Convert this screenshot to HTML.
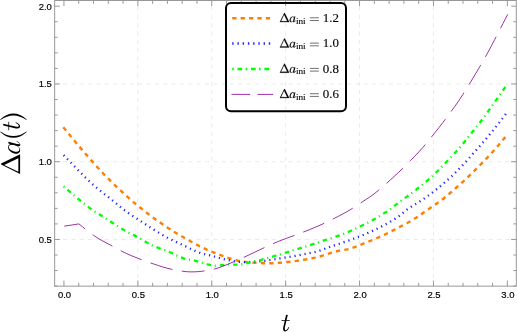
<!DOCTYPE html>
<html><head><meta charset="utf-8"><title>plot</title>
<style>
html,body{margin:0;padding:0;background:#fff;}
body{width:517px;height:332px;overflow:hidden;font-family:"Liberation Sans",sans-serif;}
svg{display:block;will-change:transform;}
.tk{font-family:"Liberation Sans",sans-serif;font-size:10px;fill:#000;stroke:#000;stroke-width:0.18px;}
.ser{font-family:"Liberation Serif",serif;fill:#000;stroke:#000;stroke-width:0.12px;}
</style></head><body>
<svg width="517" height="332" viewBox="0 0 517 332">
<rect x="0" y="0" width="517" height="332" fill="#ffffff"/>
<g stroke="#eaeaea" stroke-width="1" stroke-dasharray="4.2 4.15" fill="none">
<line x1="137.85" y1="286.15" x2="137.85" y2="0.5"/>
<line x1="211.75" y1="286.15" x2="211.75" y2="0.5"/>
<line x1="285.65" y1="286.15" x2="285.65" y2="0.5"/>
<line x1="359.55" y1="286.15" x2="359.55" y2="0.5"/>
<line x1="433.45" y1="286.15" x2="433.45" y2="0.5"/>
<line x1="54.65" y1="239.45" x2="516.3" y2="239.45"/>
<line x1="54.65" y1="161.70" x2="516.3" y2="161.70"/>
<line x1="54.65" y1="83.95" x2="516.3" y2="83.95"/>
</g>
<path d="M63.3,127.2 L67.3,132.0 L71.3,136.9 L75.3,141.8 L79.3,146.6 L83.3,151.3 L87.3,155.9 L91.3,160.4 L95.3,164.9 L99.3,169.3 L103.3,173.6 L107.3,177.7 L111.3,181.7 L115.3,185.6 L119.3,189.3 L123.3,193.0 L127.3,196.6 L131.3,200.2 L135.3,203.6 L139.3,206.9 L143.3,210.1 L147.3,213.2 L151.3,216.3 L155.3,219.2 L159.3,222.0 L163.3,224.8 L167.3,227.4 L171.3,230.0 L175.3,232.5 L179.3,234.9 L183.3,237.3 L187.3,239.5 L191.3,241.7 L195.3,243.9 L199.3,246.0 L203.3,248.0 L207.3,249.8 L211.3,251.5 L215.3,253.1 L219.3,254.7 L223.3,256.2 L227.3,257.7 L231.3,259.0 L235.3,260.1 L239.3,261.0 L243.3,261.7 L247.3,262.1 L251.3,262.5 L255.3,262.8 L259.3,263.1 L263.3,263.2 L267.3,263.3 L271.3,263.3 L275.3,263.1 L279.3,262.8 L283.3,262.5 L287.3,262.0 L291.3,261.6 L295.3,261.1 L299.3,260.5 L303.3,259.9 L307.3,259.2 L311.3,258.4 L315.3,257.6 L319.3,256.6 L323.3,255.4 L327.3,254.1 L331.3,252.9 L335.3,251.7 L339.3,250.7 L343.3,250.1 L347.3,249.4 L351.3,248.2 L355.3,246.8 L359.3,245.3 L363.3,243.6 L367.3,242.1 L371.3,240.5 L375.3,238.9 L379.3,237.1 L383.3,235.3 L387.3,233.3 L391.3,231.3 L395.3,229.2 L399.3,227.1 L403.3,225.0 L407.3,223.0 L411.3,220.7 L415.3,218.3 L419.3,215.8 L423.3,212.8 L427.3,210.0 L431.3,207.3 L435.3,204.5 L439.3,201.7 L443.3,198.7 L447.3,195.4 L451.3,192.0 L455.3,188.5 L459.3,184.9 L463.3,181.4 L467.3,177.7 L471.3,173.8 L475.3,169.9 L479.3,165.9 L483.3,161.9 L487.3,157.7 L491.3,153.4 L495.3,148.9 L499.3,144.2 L503.3,139.5 L507.3,135.0 L507.4,134.9" fill="none" stroke="#ff8000" stroke-width="2.4" stroke-dasharray="4.3 4.2"/>
<path d="M63.6,155.1 L67.6,159.3 L71.6,163.4 L75.6,167.6 L79.6,171.7 L83.6,175.7 L87.6,179.6 L91.6,183.4 L95.6,186.9 L99.6,190.2 L103.6,193.4 L107.6,196.5 L111.6,199.7 L115.6,203.0 L119.6,206.3 L123.6,209.5 L127.6,212.4 L131.6,215.2 L135.6,217.8 L139.6,220.4 L143.6,223.0 L147.6,225.7 L151.6,228.3 L155.6,230.8 L159.6,233.2 L163.6,235.6 L167.6,237.8 L171.6,239.8 L175.6,241.7 L179.6,243.5 L183.6,245.3 L187.6,247.3 L191.6,249.3 L195.6,251.1 L199.6,252.7 L203.6,253.9 L207.6,254.8 L211.6,255.8 L215.6,256.9 L219.6,258.0 L223.6,259.1 L227.6,260.0 L231.6,260.8 L235.6,261.4 L239.6,261.9 L243.6,262.1 L247.6,262.1 L251.6,261.9 L255.6,261.6 L259.6,261.3 L263.6,260.9 L267.6,260.4 L271.6,259.8 L275.6,259.2 L279.6,258.5 L283.6,257.8 L287.6,257.1 L291.6,256.5 L295.6,255.8 L299.6,255.1 L303.6,254.3 L307.6,253.5 L311.6,252.7 L315.6,251.8 L319.6,250.7 L323.6,249.3 L327.6,247.7 L331.6,246.3 L335.6,245.0 L339.6,243.7 L343.6,242.3 L347.6,241.0 L351.6,239.5 L355.6,238.0 L359.6,236.4 L363.6,234.8 L367.6,233.1 L371.6,231.3 L375.6,229.4 L379.6,227.5 L383.6,225.4 L387.6,223.3 L391.6,221.0 L395.6,218.5 L399.6,215.7 L403.6,212.4 L407.6,209.2 L411.6,206.5 L415.6,204.0 L419.6,201.6 L423.6,199.0 L427.6,196.2 L431.6,193.2 L435.6,190.1 L439.6,186.8 L443.6,183.5 L447.6,179.9 L451.6,176.3 L455.6,172.4 L459.6,168.4 L463.6,164.2 L467.6,159.9 L471.6,155.3 L475.6,150.8 L479.6,146.3 L483.6,141.7 L487.6,137.0 L491.6,132.2 L495.6,127.2 L499.6,122.1 L503.6,116.9 L507.4,112.0" fill="none" stroke="#2222ff" stroke-width="2.3" stroke-dasharray="1.2 3.9"/>
<path d="M63.6,186.3 L67.6,189.8 L71.6,193.3 L75.6,196.7 L79.6,200.0 L83.6,203.3 L87.6,206.4 L91.6,209.4 L95.6,212.1 L99.6,214.6 L103.6,217.1 L107.6,219.6 L111.6,222.2 L115.6,224.8 L119.6,227.4 L123.6,229.8 L127.6,232.0 L131.6,234.1 L135.6,236.1 L139.6,238.2 L143.6,240.5 L147.6,242.9 L151.6,245.1 L155.6,246.9 L159.6,248.3 L163.6,249.6 L167.6,251.1 L171.6,253.0 L175.6,255.0 L179.6,256.9 L183.6,258.4 L187.6,259.4 L191.6,260.0 L195.6,260.8 L199.6,261.9 L203.6,263.3 L207.6,264.5 L211.6,265.3 L215.6,265.6 L219.6,265.3 L223.6,265.0 L227.6,264.7 L231.6,264.7 L235.6,264.7 L239.6,264.6 L243.6,264.0 L247.6,263.2 L251.6,262.2 L255.6,261.2 L259.6,260.3 L263.6,259.2 L267.6,258.1 L271.6,256.9 L275.6,255.7 L279.6,254.6 L283.6,253.4 L287.6,252.1 L291.6,250.8 L295.6,249.6 L299.6,248.3 L303.6,247.1 L307.6,245.9 L311.6,244.6 L315.6,243.3 L319.6,241.9 L323.6,240.6 L327.6,239.3 L331.6,238.0 L335.6,236.7 L339.6,235.4 L343.6,233.9 L347.6,232.2 L351.6,230.5 L355.6,228.6 L359.6,226.7 L363.6,224.7 L367.6,222.8 L371.6,220.7 L375.6,218.5 L379.6,216.1 L383.6,213.6 L387.6,211.0 L391.6,208.1 L395.6,204.9 L399.6,201.9 L403.6,199.0 L407.6,196.1 L411.6,193.2 L415.6,190.1 L419.6,186.9 L423.6,183.7 L427.6,180.4 L431.6,176.9 L435.6,173.0 L439.6,169.0 L443.6,164.9 L447.6,160.7 L451.6,156.5 L455.6,152.2 L459.6,147.7 L463.6,142.9 L467.6,137.9 L471.6,133.0 L475.6,128.0 L479.6,123.0 L483.6,117.7 L487.6,112.2 L491.6,106.5 L495.6,100.8 L499.6,95.1 L503.6,89.5 L507.4,84.3" fill="none" stroke="#00ff00" stroke-width="2.3" stroke-dasharray="1.1 4.0 4.5 3.7"/>
<path d="M64.3,226.2 L78.9,223.9 L82.9,227.1 L86.9,230.3 L90.9,233.4 L94.9,236.2 L98.9,238.8 L102.9,241.0 L106.9,243.2 L110.9,245.3 L114.9,247.6 L118.9,249.7 L122.9,251.8 L126.9,253.7 L130.9,255.5 L134.9,257.1 L138.9,258.7 L142.9,260.2 L146.9,261.7 L150.9,263.1 L154.9,264.4 L158.9,265.7 L162.9,267.0 L166.9,268.1 L170.9,269.1 L174.9,270.0 L178.9,270.7 L182.9,271.3 L186.9,271.7 L190.9,271.9 L194.9,271.8 L198.9,271.6 L202.9,271.1 L206.9,270.5 L210.9,269.8 L214.9,268.9 L218.9,267.7 L222.9,266.2 L226.9,264.6 L230.9,263.0 L234.9,261.3 L238.9,259.6 L242.9,257.8 L246.9,255.9 L250.9,254.0 L254.9,252.1 L258.9,250.2 L262.9,248.3 L266.9,246.4 L270.9,244.6 L274.9,242.9 L278.9,241.2 L282.9,239.7 L286.9,238.2 L290.9,236.7 L294.9,235.2 L298.9,233.7 L302.9,232.2 L306.9,230.7 L310.9,229.1 L314.9,227.4 L318.9,225.7 L322.9,223.9 L326.9,222.0 L330.9,220.1 L334.9,218.1 L338.9,216.0 L342.9,213.9 L346.9,211.7 L350.9,209.3 L354.9,206.8 L358.9,204.2 L362.9,201.5 L366.9,198.9 L370.9,196.2 L374.9,193.2 L378.9,190.0 L382.9,186.6 L386.9,183.0 L390.9,179.4 L394.9,175.8 L398.9,172.1 L402.9,168.3 L406.9,164.3 L410.9,160.2 L414.9,156.1 L418.9,151.9 L422.9,147.4 L426.9,142.7 L430.9,137.7 L434.9,132.7 L438.9,127.7 L442.9,122.5 L446.9,117.2 L450.9,111.8 L454.9,106.3 L458.9,100.6 L462.9,94.5 L466.9,88.1 L470.9,81.6 L474.9,74.9 L478.9,68.2 L482.9,61.3 L486.9,54.2 L490.9,46.8 L494.9,39.2 L498.9,31.4 L502.9,23.6 L506.9,16.0 L507.8,14.3" fill="none" stroke="#a030a8" stroke-width="1" stroke-dasharray="22.8 9.5"/>
<g stroke="#989898" stroke-width="1" fill="none">
<rect x="54.65" y="0.5" width="461.65" height="285.65"/>
<line x1="63.95" y1="286.15" x2="63.95" y2="280.55"/><line x1="63.95" y1="0.5" x2="63.95" y2="6.10"/>
<line x1="78.73" y1="286.15" x2="78.73" y2="282.85"/><line x1="78.73" y1="0.5" x2="78.73" y2="3.80"/>
<line x1="93.51" y1="286.15" x2="93.51" y2="282.85"/><line x1="93.51" y1="0.5" x2="93.51" y2="3.80"/>
<line x1="108.29" y1="286.15" x2="108.29" y2="282.85"/><line x1="108.29" y1="0.5" x2="108.29" y2="3.80"/>
<line x1="123.07" y1="286.15" x2="123.07" y2="282.85"/><line x1="123.07" y1="0.5" x2="123.07" y2="3.80"/>
<line x1="137.85" y1="286.15" x2="137.85" y2="280.55"/><line x1="137.85" y1="0.5" x2="137.85" y2="6.10"/>
<line x1="152.63" y1="286.15" x2="152.63" y2="282.85"/><line x1="152.63" y1="0.5" x2="152.63" y2="3.80"/>
<line x1="167.41" y1="286.15" x2="167.41" y2="282.85"/><line x1="167.41" y1="0.5" x2="167.41" y2="3.80"/>
<line x1="182.19" y1="286.15" x2="182.19" y2="282.85"/><line x1="182.19" y1="0.5" x2="182.19" y2="3.80"/>
<line x1="196.97" y1="286.15" x2="196.97" y2="282.85"/><line x1="196.97" y1="0.5" x2="196.97" y2="3.80"/>
<line x1="211.75" y1="286.15" x2="211.75" y2="280.55"/><line x1="211.75" y1="0.5" x2="211.75" y2="6.10"/>
<line x1="226.53" y1="286.15" x2="226.53" y2="282.85"/><line x1="226.53" y1="0.5" x2="226.53" y2="3.80"/>
<line x1="241.31" y1="286.15" x2="241.31" y2="282.85"/><line x1="241.31" y1="0.5" x2="241.31" y2="3.80"/>
<line x1="256.09" y1="286.15" x2="256.09" y2="282.85"/><line x1="256.09" y1="0.5" x2="256.09" y2="3.80"/>
<line x1="270.87" y1="286.15" x2="270.87" y2="282.85"/><line x1="270.87" y1="0.5" x2="270.87" y2="3.80"/>
<line x1="285.65" y1="286.15" x2="285.65" y2="280.55"/><line x1="285.65" y1="0.5" x2="285.65" y2="6.10"/>
<line x1="300.43" y1="286.15" x2="300.43" y2="282.85"/><line x1="300.43" y1="0.5" x2="300.43" y2="3.80"/>
<line x1="315.21" y1="286.15" x2="315.21" y2="282.85"/><line x1="315.21" y1="0.5" x2="315.21" y2="3.80"/>
<line x1="329.99" y1="286.15" x2="329.99" y2="282.85"/><line x1="329.99" y1="0.5" x2="329.99" y2="3.80"/>
<line x1="344.77" y1="286.15" x2="344.77" y2="282.85"/><line x1="344.77" y1="0.5" x2="344.77" y2="3.80"/>
<line x1="359.55" y1="286.15" x2="359.55" y2="280.55"/><line x1="359.55" y1="0.5" x2="359.55" y2="6.10"/>
<line x1="374.33" y1="286.15" x2="374.33" y2="282.85"/><line x1="374.33" y1="0.5" x2="374.33" y2="3.80"/>
<line x1="389.11" y1="286.15" x2="389.11" y2="282.85"/><line x1="389.11" y1="0.5" x2="389.11" y2="3.80"/>
<line x1="403.89" y1="286.15" x2="403.89" y2="282.85"/><line x1="403.89" y1="0.5" x2="403.89" y2="3.80"/>
<line x1="418.67" y1="286.15" x2="418.67" y2="282.85"/><line x1="418.67" y1="0.5" x2="418.67" y2="3.80"/>
<line x1="433.45" y1="286.15" x2="433.45" y2="280.55"/><line x1="433.45" y1="0.5" x2="433.45" y2="6.10"/>
<line x1="448.23" y1="286.15" x2="448.23" y2="282.85"/><line x1="448.23" y1="0.5" x2="448.23" y2="3.80"/>
<line x1="463.01" y1="286.15" x2="463.01" y2="282.85"/><line x1="463.01" y1="0.5" x2="463.01" y2="3.80"/>
<line x1="477.79" y1="286.15" x2="477.79" y2="282.85"/><line x1="477.79" y1="0.5" x2="477.79" y2="3.80"/>
<line x1="492.57" y1="286.15" x2="492.57" y2="282.85"/><line x1="492.57" y1="0.5" x2="492.57" y2="3.80"/>
<line x1="507.35" y1="286.15" x2="507.35" y2="280.55"/><line x1="507.35" y1="0.5" x2="507.35" y2="6.10"/>
<line x1="54.65" y1="286.10" x2="57.65" y2="286.10"/><line x1="516.3" y1="286.10" x2="513.30" y2="286.10"/>
<line x1="54.65" y1="270.55" x2="57.65" y2="270.55"/><line x1="516.3" y1="270.55" x2="513.30" y2="270.55"/>
<line x1="54.65" y1="255.00" x2="57.65" y2="255.00"/><line x1="516.3" y1="255.00" x2="513.30" y2="255.00"/>
<line x1="54.65" y1="239.45" x2="59.85" y2="239.45"/><line x1="516.3" y1="239.45" x2="511.10" y2="239.45"/>
<line x1="54.65" y1="223.90" x2="57.65" y2="223.90"/><line x1="516.3" y1="223.90" x2="513.30" y2="223.90"/>
<line x1="54.65" y1="208.35" x2="57.65" y2="208.35"/><line x1="516.3" y1="208.35" x2="513.30" y2="208.35"/>
<line x1="54.65" y1="192.80" x2="57.65" y2="192.80"/><line x1="516.3" y1="192.80" x2="513.30" y2="192.80"/>
<line x1="54.65" y1="177.25" x2="57.65" y2="177.25"/><line x1="516.3" y1="177.25" x2="513.30" y2="177.25"/>
<line x1="54.65" y1="161.70" x2="59.85" y2="161.70"/><line x1="516.3" y1="161.70" x2="511.10" y2="161.70"/>
<line x1="54.65" y1="146.15" x2="57.65" y2="146.15"/><line x1="516.3" y1="146.15" x2="513.30" y2="146.15"/>
<line x1="54.65" y1="130.60" x2="57.65" y2="130.60"/><line x1="516.3" y1="130.60" x2="513.30" y2="130.60"/>
<line x1="54.65" y1="115.05" x2="57.65" y2="115.05"/><line x1="516.3" y1="115.05" x2="513.30" y2="115.05"/>
<line x1="54.65" y1="99.50" x2="57.65" y2="99.50"/><line x1="516.3" y1="99.50" x2="513.30" y2="99.50"/>
<line x1="54.65" y1="83.95" x2="59.85" y2="83.95"/><line x1="516.3" y1="83.95" x2="511.10" y2="83.95"/>
<line x1="54.65" y1="68.40" x2="57.65" y2="68.40"/><line x1="516.3" y1="68.40" x2="513.30" y2="68.40"/>
<line x1="54.65" y1="52.85" x2="57.65" y2="52.85"/><line x1="516.3" y1="52.85" x2="513.30" y2="52.85"/>
<line x1="54.65" y1="37.30" x2="57.65" y2="37.30"/><line x1="516.3" y1="37.30" x2="513.30" y2="37.30"/>
<line x1="54.65" y1="21.75" x2="57.65" y2="21.75"/><line x1="516.3" y1="21.75" x2="513.30" y2="21.75"/>
<line x1="54.65" y1="6.20" x2="59.85" y2="6.20"/><line x1="516.3" y1="6.20" x2="511.10" y2="6.20"/>
</g>
<text class="tk" transform="translate(64.50,298.1) scale(0.95,0.98)" text-anchor="middle">0.0</text>
<text class="tk" transform="translate(138.40,298.1) scale(0.95,0.98)" text-anchor="middle">0.5</text>
<text class="tk" transform="translate(212.30,298.1) scale(0.95,0.98)" text-anchor="middle">1.0</text>
<text class="tk" transform="translate(286.20,298.1) scale(0.95,0.98)" text-anchor="middle">1.5</text>
<text class="tk" transform="translate(360.10,298.1) scale(0.95,0.98)" text-anchor="middle">2.0</text>
<text class="tk" transform="translate(434.00,298.1) scale(0.95,0.98)" text-anchor="middle">2.5</text>
<text class="tk" transform="translate(507.90,298.1) scale(0.95,0.98)" text-anchor="middle">3.0</text>
<text class="tk" transform="translate(51.9,242.95) scale(0.95,0.98)" text-anchor="end">0.5</text>
<text class="tk" transform="translate(51.9,165.20) scale(0.95,0.98)" text-anchor="end">1.0</text>
<text class="tk" transform="translate(51.9,87.45) scale(0.95,0.98)" text-anchor="end">1.5</text>
<text class="tk" transform="translate(51.9,9.70) scale(0.95,0.98)" text-anchor="end">2.0</text>
<!-- x axis label: t -->
<g transform="translate(281.45,331.00)"><g transform="scale(1.0000)"><path d="M0,-11.05 H8.3 V-10.3 H0 Z M4.55,-16.0 L6.4,-16.25 L3.55,-4.2 C3.2,-2.6 3.3,-0.75 4.15,-0.75 C5.2,-0.75 6.4,-2.2 7.1,-4.0 L7.75,-3.75 C6.9,-1.4 5.4,0.4 3.8,0.4 C1.9,0.4 1.3,-1.5 1.75,-3.6 Z" fill="#000"/></g></g>
<!-- y axis label: Delta a(t) -->
<g transform="translate(20.1,176.0) rotate(-90)">
<g transform="translate(2.10,0.00)"><g transform="scale(1.0000)"><path d="M0.00,0.00 L9.34,-19.05 L10.29,-19.05 L19.63,0.00 Z M2.15,-1.76 L15.77,-1.76 L8.80,-15.96 Z" fill="#000" fill-rule="evenodd"/></g></g>
<g transform="translate(22.50,0.00)"><g transform="scale(1.0000) translate(-1.4,0) skewX(-14)"><path d="M-0.10,-6.00 A4.75,6.1 0 1 1 9.40,-6.00 A4.75,6.1 0 1 1 -0.10,-6.00 Z M1.90,-6.00 A3.3,5.35 0 1 0 8.50,-6.00 A3.3,5.35 0 1 0 1.90,-6.00 Z" fill="#000" fill-rule="evenodd"/><path d="M8.45,-11.7 H10.20 V-1.2 H8.45 Z" fill="#000"/><path d="M8.45,-2.40 C8.30,-0.30 9.20,0.25 10.20,0.25 C11.50,0.25 12.50,-1.20 13.20,-3.20 L12.55,-3.50 C12.00,-1.90 11.40,-0.60 10.70,-0.60 C10.30,-0.60 10.15,-1.00 10.20,-2.40 Z" fill="#000"/></g></g>
<g transform="translate(38.30,0.00)"><g transform="scale(1.0000)"><path d="M5.8,-19.9 Q-6.1,-6.65 5.8,6.6 L6.25,6.3 Q-2.9,-6.65 6.25,-19.6 Z" fill="#000"/></g></g>
<g transform="translate(45.80,-0.45)"><g transform="scale(1.0200)"><path d="M0,-11.05 H8.3 V-10.3 H0 Z M4.55,-16.0 L6.4,-16.25 L3.55,-4.2 C3.2,-2.6 3.3,-0.75 4.15,-0.75 C5.2,-0.75 6.4,-2.2 7.1,-4.0 L7.75,-3.75 C6.9,-1.4 5.4,0.4 3.8,0.4 C1.9,0.4 1.3,-1.5 1.75,-3.6 Z" fill="#000"/></g></g>
<g transform="translate(56.20,0.00)"><g transform="scale(1.0000) translate(6.1,0) scale(-1,1)"><path d="M5.8,-19.9 Q-6.1,-6.65 5.8,6.6 L6.25,6.3 Q-2.9,-6.65 6.25,-19.6 Z" fill="#000"/></g></g>
</g>
<!-- legend -->
<rect x="226" y="3" width="120" height="108.3" rx="5" ry="5" fill="none" stroke="#000" stroke-width="2"/>
<line x1="232.2" y1="18.2" x2="270.3" y2="18.2" stroke="#ff8000" stroke-width="2.5" stroke-dasharray="4.3 4.1"/>
<line x1="232.2" y1="43.5" x2="270.6" y2="43.5" stroke="#2222ff" stroke-width="2.4" stroke-dasharray="1.4 3.83"/>
<line x1="232.2" y1="69.0" x2="270.3" y2="69.0" stroke="#00ff00" stroke-width="2.4" stroke-dasharray="1.5 3.8 4.75 3.4"/>
<line x1="231.5" y1="94.4" x2="273.2" y2="94.4" stroke="#a030a8" stroke-width="1" stroke-dasharray="18.7 7.3"/>
<g transform="translate(0,22.10)">
<g transform="translate(279.90,0.00)"><g transform="scale(0.4718)"><path d="M0.00,0.00 L9.34,-19.05 L10.29,-19.05 L19.63,0.00 Z M2.15,-1.76 L15.77,-1.76 L8.80,-15.96 Z" fill="#000" stroke="#000" stroke-width="0.55" stroke-linejoin="round" fill-rule="evenodd"/></g></g>
<g transform="translate(289.80,0.00)"><g transform="scale(0.4718) translate(-1.4,0) skewX(-14)"><path d="M-0.10,-6.00 A4.75,6.1 0 1 1 9.40,-6.00 A4.75,6.1 0 1 1 -0.10,-6.00 Z M1.90,-6.00 A3.3,5.35 0 1 0 8.50,-6.00 A3.3,5.35 0 1 0 1.90,-6.00 Z" fill="#000" stroke="#000" stroke-width="0.3" stroke-linejoin="round" fill-rule="evenodd"/><path d="M8.45,-11.7 H10.20 V-1.2 H8.45 Z" fill="#000" stroke="#000" stroke-width="0.3" stroke-linejoin="round"/><path d="M8.45,-2.40 C8.30,-0.30 9.20,0.25 10.20,0.25 C11.50,0.25 12.50,-1.20 13.20,-3.20 L12.55,-3.50 C12.00,-1.90 11.40,-0.60 10.70,-0.60 C10.30,-0.60 10.15,-1.00 10.20,-2.40 Z" fill="#000" stroke="#000" stroke-width="0.3" stroke-linejoin="round"/></g></g>
<text class="ser" transform="translate(295.9,1.6) scale(1.04,1)" font-size="8.9" stroke-width="0.25">ini</text>
<path d="M309.9,-4.3 H318.9 M309.9,-1.6 H318.9" stroke="#111" stroke-width="0.6" fill="none"/>
<text class="ser" transform="translate(322.7,0) scale(1.03,1)" font-size="12.6">1.2</text>
</g>
<g transform="translate(0,47.40)">
<g transform="translate(279.90,0.00)"><g transform="scale(0.4718)"><path d="M0.00,0.00 L9.34,-19.05 L10.29,-19.05 L19.63,0.00 Z M2.15,-1.76 L15.77,-1.76 L8.80,-15.96 Z" fill="#000" stroke="#000" stroke-width="0.55" stroke-linejoin="round" fill-rule="evenodd"/></g></g>
<g transform="translate(289.80,0.00)"><g transform="scale(0.4718) translate(-1.4,0) skewX(-14)"><path d="M-0.10,-6.00 A4.75,6.1 0 1 1 9.40,-6.00 A4.75,6.1 0 1 1 -0.10,-6.00 Z M1.90,-6.00 A3.3,5.35 0 1 0 8.50,-6.00 A3.3,5.35 0 1 0 1.90,-6.00 Z" fill="#000" stroke="#000" stroke-width="0.3" stroke-linejoin="round" fill-rule="evenodd"/><path d="M8.45,-11.7 H10.20 V-1.2 H8.45 Z" fill="#000" stroke="#000" stroke-width="0.3" stroke-linejoin="round"/><path d="M8.45,-2.40 C8.30,-0.30 9.20,0.25 10.20,0.25 C11.50,0.25 12.50,-1.20 13.20,-3.20 L12.55,-3.50 C12.00,-1.90 11.40,-0.60 10.70,-0.60 C10.30,-0.60 10.15,-1.00 10.20,-2.40 Z" fill="#000" stroke="#000" stroke-width="0.3" stroke-linejoin="round"/></g></g>
<text class="ser" transform="translate(295.9,1.6) scale(1.04,1)" font-size="8.9" stroke-width="0.25">ini</text>
<path d="M309.9,-4.3 H318.9 M309.9,-1.6 H318.9" stroke="#111" stroke-width="0.6" fill="none"/>
<text class="ser" transform="translate(322.7,0) scale(1.03,1)" font-size="12.6">1.0</text>
</g>
<g transform="translate(0,72.70)">
<g transform="translate(279.90,0.00)"><g transform="scale(0.4718)"><path d="M0.00,0.00 L9.34,-19.05 L10.29,-19.05 L19.63,0.00 Z M2.15,-1.76 L15.77,-1.76 L8.80,-15.96 Z" fill="#000" stroke="#000" stroke-width="0.55" stroke-linejoin="round" fill-rule="evenodd"/></g></g>
<g transform="translate(289.80,0.00)"><g transform="scale(0.4718) translate(-1.4,0) skewX(-14)"><path d="M-0.10,-6.00 A4.75,6.1 0 1 1 9.40,-6.00 A4.75,6.1 0 1 1 -0.10,-6.00 Z M1.90,-6.00 A3.3,5.35 0 1 0 8.50,-6.00 A3.3,5.35 0 1 0 1.90,-6.00 Z" fill="#000" stroke="#000" stroke-width="0.3" stroke-linejoin="round" fill-rule="evenodd"/><path d="M8.45,-11.7 H10.20 V-1.2 H8.45 Z" fill="#000" stroke="#000" stroke-width="0.3" stroke-linejoin="round"/><path d="M8.45,-2.40 C8.30,-0.30 9.20,0.25 10.20,0.25 C11.50,0.25 12.50,-1.20 13.20,-3.20 L12.55,-3.50 C12.00,-1.90 11.40,-0.60 10.70,-0.60 C10.30,-0.60 10.15,-1.00 10.20,-2.40 Z" fill="#000" stroke="#000" stroke-width="0.3" stroke-linejoin="round"/></g></g>
<text class="ser" transform="translate(295.9,1.6) scale(1.04,1)" font-size="8.9" stroke-width="0.25">ini</text>
<path d="M309.9,-4.3 H318.9 M309.9,-1.6 H318.9" stroke="#111" stroke-width="0.6" fill="none"/>
<text class="ser" transform="translate(322.7,0) scale(1.03,1)" font-size="12.6">0.8</text>
</g>
<g transform="translate(0,98.00)">
<g transform="translate(279.90,0.00)"><g transform="scale(0.4718)"><path d="M0.00,0.00 L9.34,-19.05 L10.29,-19.05 L19.63,0.00 Z M2.15,-1.76 L15.77,-1.76 L8.80,-15.96 Z" fill="#000" stroke="#000" stroke-width="0.55" stroke-linejoin="round" fill-rule="evenodd"/></g></g>
<g transform="translate(289.80,0.00)"><g transform="scale(0.4718) translate(-1.4,0) skewX(-14)"><path d="M-0.10,-6.00 A4.75,6.1 0 1 1 9.40,-6.00 A4.75,6.1 0 1 1 -0.10,-6.00 Z M1.90,-6.00 A3.3,5.35 0 1 0 8.50,-6.00 A3.3,5.35 0 1 0 1.90,-6.00 Z" fill="#000" stroke="#000" stroke-width="0.3" stroke-linejoin="round" fill-rule="evenodd"/><path d="M8.45,-11.7 H10.20 V-1.2 H8.45 Z" fill="#000" stroke="#000" stroke-width="0.3" stroke-linejoin="round"/><path d="M8.45,-2.40 C8.30,-0.30 9.20,0.25 10.20,0.25 C11.50,0.25 12.50,-1.20 13.20,-3.20 L12.55,-3.50 C12.00,-1.90 11.40,-0.60 10.70,-0.60 C10.30,-0.60 10.15,-1.00 10.20,-2.40 Z" fill="#000" stroke="#000" stroke-width="0.3" stroke-linejoin="round"/></g></g>
<text class="ser" transform="translate(295.9,1.6) scale(1.04,1)" font-size="8.9" stroke-width="0.25">ini</text>
<path d="M309.9,-4.3 H318.9 M309.9,-1.6 H318.9" stroke="#111" stroke-width="0.6" fill="none"/>
<text class="ser" transform="translate(322.7,0) scale(1.03,1)" font-size="12.6">0.6</text>
</g>
</svg>
</body></html>
